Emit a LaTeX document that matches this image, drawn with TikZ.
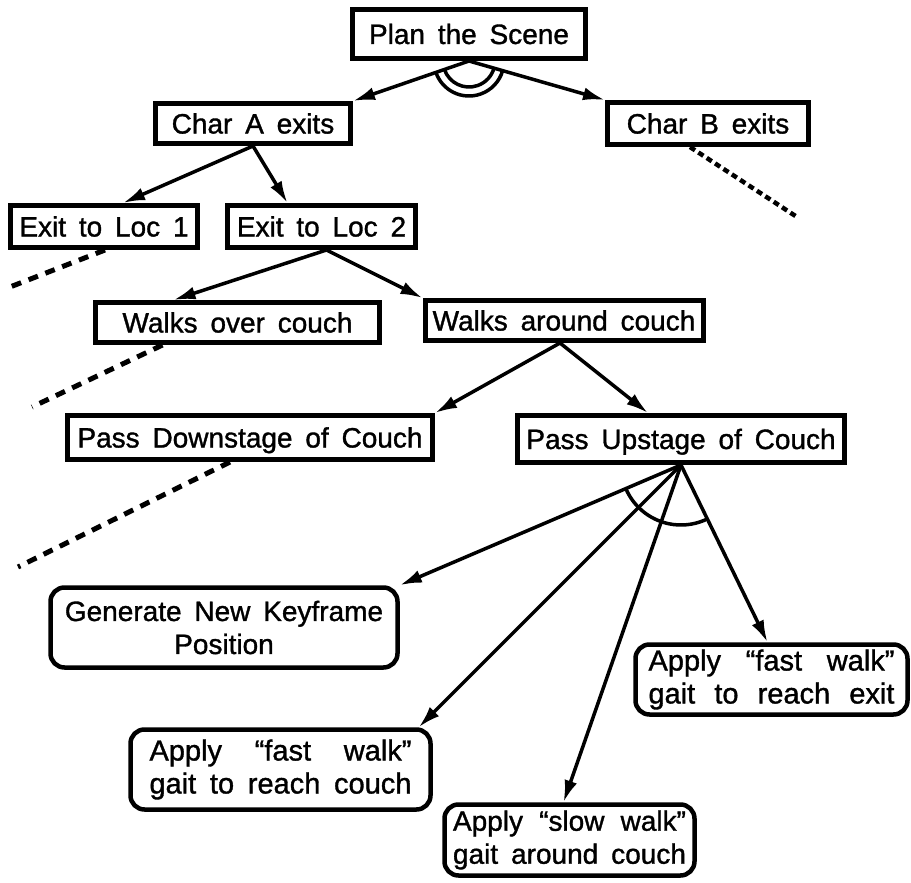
\documentclass[tikz,border=0pt]{standalone}
\usepackage{fontspec}
\setmainfont{Liberation Sans}[WordSpace=1.65, FakeBold=1.2]
\usetikzlibrary{arrows.meta,calc}

% two-line label with both lines spread to a common width
\newcommand\spreadpair[3]{\makebox[#1][s]{#2}\\\makebox[#1][s]{#3}}

\begin{document}
\begin{tikzpicture}[x=1pt,y=1pt,
  box/.style={draw, line width=5pt, inner sep=0pt,
    font=\fontsize{28}{33}\selectfont, text height=20pt, text depth=0pt},
  rbox/.style={draw, line width=4.5pt, rounded corners=14pt, inner sep=0pt,
    align=center, font=\fontsize{28}{33}\selectfont},
  bigtext/.style={font=\fontsize{29}{33}\selectfont},
  link/.style={line width=3.5pt, -{Latex[length=22pt,width=13pt]}},
  andarc/.style={line width=3.5pt},
  cut/.style={line width=5pt, dash pattern=on 10pt off 8pt},
  finecut/.style={line width=4.5pt, dash pattern=on 6pt off 4pt},
]
\useasboundingbox (0,0) rectangle (911,-883);

% goal tree
\node[box, minimum width=233, minimum height=49] (scene)  at (469,-34)     {Plan the Scene};
\node[box, minimum width=195, minimum height=40] (charA)  at (253,-123.5)  {Char A exits};
\node[box, minimum width=201, minimum height=42] (charB)  at (708,-123.5)  {Char B exits};
\node[box, minimum width=187, minimum height=42] (loc1)   at (104,-226.5)  {Exit to Loc 1};
\node[box, minimum width=188, minimum height=42] (loc2)   at (321.5,-226.5){Exit to Loc 2};
\node[box, minimum width=284, minimum height=40] (over)   at (237.5,-322.5){Walks over couch};
\node[box, minimum width=278, minimum height=40] (around) at (564,-320.5)  {Walks around couch};
\node[box, minimum width=365, minimum height=44] (down)   at (250,-437.5)  {Pass Downstage of Couch};
\node[box, minimum width=327, minimum height=47] (up)     at (681,-439)    {Pass Upstage of Couch};

% primitive actions
\node[rbox, minimum width=347, minimum height=80] (gen)   at (224,-627.5)  {Generate New Keyframe\\Position};
\node[rbox, bigtext, minimum width=272, minimum height=70] (exit)  at (771.5,-679.5)
  {\spreadpair{246pt}{Apply “fast walk”}{gait to reach exit}};
\node[rbox, bigtext, minimum width=300, minimum height=80] (couch) at (280.5,-769.5)
  {\spreadpair{262pt}{Apply “fast walk”}{gait to reach couch}};
\node[rbox, minimum width=250, minimum height=71] (slow)  at (569.5,-840)
  {\spreadpair{233pt}{Apply “slow walk”}{gait around couch}};

% edges
\draw[link] (scene.south) -- (charA.north east);
\draw[link] (scene.south) -- (charB.north west);
\draw[andarc] ($(scene.south)+(199:35)$) arc[start angle=199, end angle=344, radius=35];
\draw[andarc] ($(scene.south)+(199:26)$) arc[start angle=199, end angle=344, radius=26];

\draw[link] (charA.south) -- ([xshift=19pt]loc1.north);
\draw[link] (charA.south) -- ([xshift=-34pt]loc2.north);

\draw[link] ([xshift=5pt]loc2.south) -- ([xshift=-64pt]over.north);
\draw[link] ([xshift=5pt]loc2.south) -- (around.north west);

\draw[link] ([xshift=-4pt]around.south) -- (down.north east);
\draw[link] ([xshift=-4pt]around.south) -- ([xshift=-33pt]up.north);

\draw[link] (up.south) -- (gen.north east);
\draw[link] (up.south) -- ([xshift=-14pt]couch.north east);
\draw[link] (up.south) -- ([xshift=-6pt]slow.north);
\draw[link] (up.south) -- ([xshift=-4pt]exit.north);
\draw[andarc] ($(up.south)+(203:60)$) arc[start angle=203, end angle=297, radius=60];

% branches left unexpanded
\coordinate (tailB)    at (797,-217);
\coordinate (tailLoc1) at (10,-287);
\coordinate (tailOver) at (32,-407);
\coordinate (tailDown) at (18,-567);
\draw[finecut] ([xshift=-18pt]charB.south) -- (tailB);
\draw[cut] ([xshift=1pt]loc1.south) -- (tailLoc1);
\draw[cut] ([xshift=-75pt]over.south) -- (tailOver);
\draw[cut] ([xshift=-20pt]down.south) -- (tailDown);
\end{tikzpicture}
\end{document}
